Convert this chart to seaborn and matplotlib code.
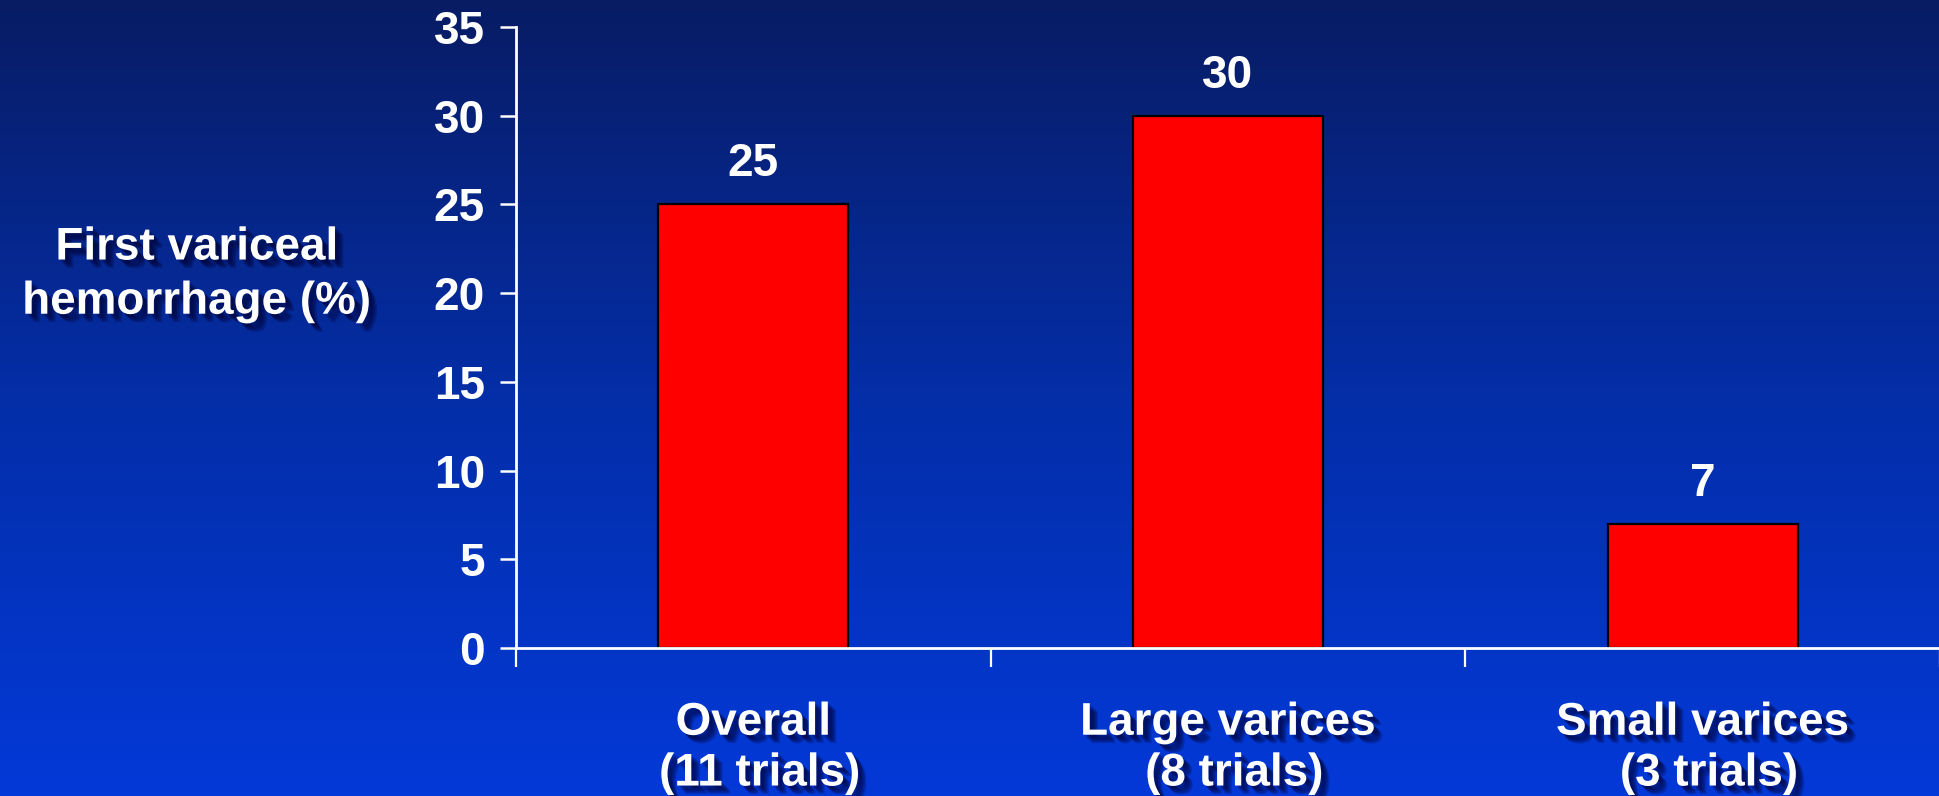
import numpy as np
import pandas as pd
import matplotlib
matplotlib.use("Agg")
import matplotlib.pyplot as plt
import matplotlib.patheffects as pe
from matplotlib.colors import LinearSegmentedColormap
import seaborn as sns

# Data
categories = ["Overall\n (11 trials)", "Large varices\n (8 trials)", "Small varices\n (3 trials)"]
values = [25, 30, 7]
yticks = [0, 5, 10, 15, 20, 25, 30, 35]
ylabel = "First variceal\nhemorrhage (%)"

sns.set_style("white")
plt.rcParams["font.family"] = ["Liberation Sans", "DejaVu Sans"]
plt.rcParams["font.weight"] = "bold"

FS = 33
fig = plt.figure(figsize=(19.4, 7.96), dpi=100)

# Vertical gradient backdrop: dark navy at the top to bright blue at the bottom
bg = fig.add_axes([0, 0, 1, 1], zorder=-10)
cmap = LinearSegmentedColormap.from_list("slide", ["#081c64", "#042ea8", "#0339d8"])
grad = np.linspace(0, 1, 256).reshape(-1, 1)
bg.imshow(grad, aspect="auto", cmap=cmap, extent=[0, 1, 0, 1], origin="upper")
bg.set_axis_off()

ax = fig.add_axes([0.266, 0.186, 0.734, 0.780])
ax.set_facecolor("none")

df = pd.DataFrame({"group": categories, "value": values})
sns.barplot(data=df, x="group", y="value", color="#ff0000", saturation=1,
            width=0.4, edgecolor="black", linewidth=1.6, ax=ax)

ax.set_xlim(-0.5, 2.5)
ax.set_ylim(0, 35)
ax.set_yticks(yticks)

white = "white"
for side in ("top", "right"):
    ax.spines[side].set_visible(False)
for side in ("left", "bottom"):
    ax.spines[side].set_color(white)
    ax.spines[side].set_linewidth(2)

ax.tick_params(axis="y", left=True, colors=white, direction="out", length=11.5,
               width=1.8, labelsize=FS, pad=11)
ax.tick_params(axis="x", which="major", bottom=True, length=0, pad=38,
               colors=white, labelsize=FS)
ax.set_xticks([-0.5, 0.5, 1.5, 2.5], minor=True)
ax.tick_params(axis="x", which="minor", bottom=True, direction="out", length=14,
               width=1.6, color=white)

# Soft drop shadow built from a few stacked offset copies
shadow = [pe.SimplePatchShadow(offset=(d, -d), shadow_rgbFace="#000030", alpha=0.22)
          for d in (2, 3, 4, 5, 6)] + [pe.Normal()]
for lbl in ax.get_xticklabels():
    lbl.set_fontweight("bold")
    lbl.set_color(white)
    lbl.set_linespacing(1.2)
    lbl.set_path_effects(shadow)
for lbl in ax.get_yticklabels():
    lbl.set_fontweight("bold")

ax.set_xlabel("")
ax.set_ylabel("")
fig.text(0.1015, 0.655, ylabel, ha="center", va="center", color=white,
         fontsize=FS, fontweight="bold", linespacing=1.3, path_effects=shadow)

ax.bar_label(ax.containers[0], labels=[str(v) for v in values], padding=13,
             color=white, fontsize=FS, fontweight="bold")

fig.savefig("out.png", dpi=100)
